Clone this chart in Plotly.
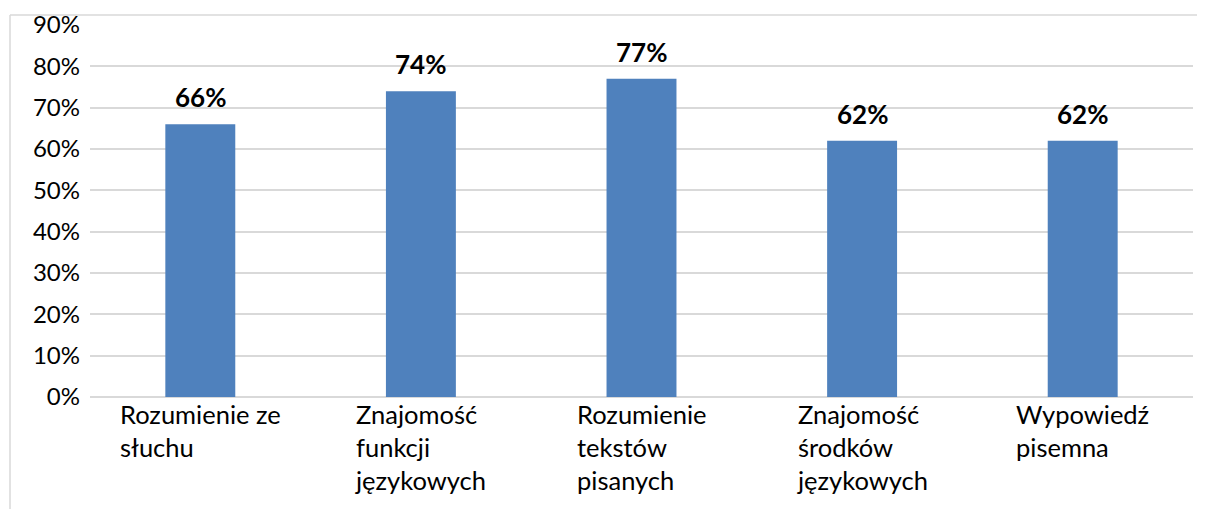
import plotly.graph_objects as go

categories = [
    "Rozumienie ze<br>słuchu",
    "Znajomość<br>funkcji<br>językowych",
    "Rozumienie<br>tekstów<br>pisanych",
    "Znajomość<br>środków<br>językowych",
    "Wypowiedź<br>pisemna",
]
values = [0.66, 0.74, 0.77, 0.62, 0.62]
y_ticks = [0, 0.1, 0.2, 0.3, 0.4, 0.5, 0.6, 0.7, 0.8, 0.9]

FONT = "Lato"
BLUE = "#4F81BD"
GRID = "#D9D9D9"

x_idx = list(range(len(categories)))

fig = go.Figure()
fig.add_trace(go.Bar(
    x=x_idx,
    y=values,
    marker=dict(color=BLUE, line=dict(width=0)),
    width=0.317,
    hoverinfo="skip",
))

annotations = []
for i, v in zip(x_idx, values):
    annotations.append(dict(
        x=i, y=v, xref="x", yref="y",
        text="<b>%d%%</b>" % round(v * 100),
        showarrow=False, xanchor="center", yanchor="bottom", yshift=9,
        font=dict(family=FONT, size=26, color="#000000"),
    ))
for i, c in zip(x_idx, categories):
    annotations.append(dict(
        x=i, y=0, xref="x", yref="y",
        text=c, align="left",
        showarrow=False, xanchor="center", yanchor="top", yshift=0,
        font=dict(family=FONT, size=25.5, color="#000000"),
    ))

fig.update_layout(
    width=1197, height=501,
    margin=dict(l=82, r=12, t=17, b=112, autoexpand=False),
    paper_bgcolor="white", plot_bgcolor="white",
    showlegend=False,
    font=dict(family=FONT, size=24, color="#000000"),
    xaxis=dict(
        range=[-0.5, len(categories) - 0.5],
        showticklabels=False, showgrid=False, zeroline=False,
        showline=False, ticks="", automargin=False,
    ),
    yaxis=dict(
        range=[0, 0.9],
        tickvals=y_ticks,
        tickformat=".0%",
        showgrid=True, gridcolor=GRID, gridwidth=1.5,
        zeroline=True, zerolinecolor=GRID, zerolinewidth=1.5,
        showline=False, ticks="", automargin=False,
        ticklabelstandoff=9,
        tickfont=dict(family=FONT, size=24, color="#000000"),
    ),
    annotations=annotations,
    shapes=[
        dict(type="line", xref="paper", yref="paper",
             x0=-80 / 1103, x1=-80 / 1103, y0=-0.5, y1=1 + 10 / 372,
             line=dict(color=GRID, width=1.5)),
        dict(type="line", xref="paper", yref="paper",
             x0=-80 / 1103, x1=1.1, y0=1 + 10 / 372, y1=1 + 10 / 372,
             line=dict(color=GRID, width=1.5)),
    ],
)

fig.write_html("out.html")
